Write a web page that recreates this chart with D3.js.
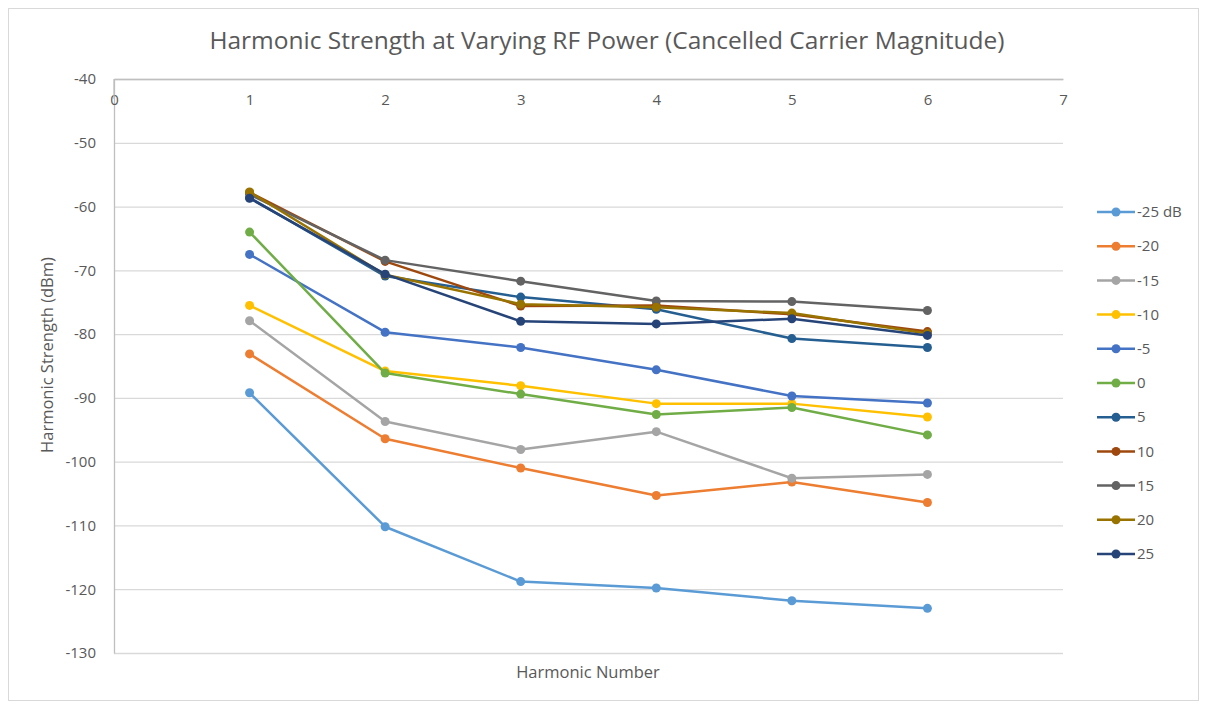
<!DOCTYPE html>
<html lang="en">
<head>
    <meta charset="UTF-8">
    <title>Harmonic Strength at Varying RF Power</title>
    <script src="https://d3js.org/d3.v7.js"></script>
    <style>
        body { margin: 0; background: #fff; }
        text { font-family: "Open Sans", "Noto Sans", sans-serif; fill: #595959; }
        .grid line { stroke: #d9d9d9; stroke-width: 1.3px; }
        .grid path { display: none; }
    </style>
</head>
<body>
<svg width="1206" height="706"></svg>
<script>
    // harmonic numbers on the x axis
    let harmonics = [1, 2, 3, 4, 5, 6];

    // RF power levels (legend labels)
    let seriesNames = ["-25 dB", "-20", "-15", "-10", "-5", "0", "5", "10", "15", "20", "25"];
    let seriesColors = ["#5b9bd5", "#ed7d31", "#a5a5a5", "#ffc000", "#4472c4", "#70ad47",
                        "#255e91", "#9e480e", "#636363", "#997300", "#264478"];

    // harmonic strength (dBm) per series
    let pM25 = [-89.2, -110.2, -118.8, -119.8, -121.8, -123.0];
    let pM20 = [-83.1, -96.4, -101.0, -105.3, -103.2, -106.4];
    let pM15 = [-77.9, -93.7, -98.1, -95.3, -102.6, -102.0];
    let pM10 = [-75.5, -85.8, -88.1, -90.9, -90.9, -93.0];
    let pM5  = [-67.5, -79.7, -82.1, -85.6, -89.7, -90.8];
    let p0   = [-64.0, -86.1, -89.4, -92.6, -91.5, -95.8];
    let p5   = [-58.6, -70.9, -74.2, -76.1, -80.7, -82.1];
    let p10  = [-57.8, -68.6, -75.6, -75.5, -76.9, -79.6];
    let p15  = [-58.1, -68.4, -71.7, -74.8, -74.9, -76.3];
    let p20  = [-57.7, -70.7, -75.3, -75.8, -76.7, -79.9];
    let p25  = [-58.7, -70.6, -78.0, -78.4, -77.6, -80.2];

    let xTicks = [0, 1, 2, 3, 4, 5, 6, 7];
    let yTicks = [-40, -50, -60, -70, -80, -90, -100, -110, -120, -130];

    let allSeries = [pM25, pM20, pM15, pM10, pM5, p0, p5, p10, p15, p20, p25];

    let svg = d3.select("svg");

    // chart border
    svg.append("rect")
        .attr("x", 8.5).attr("y", 8.5)
        .attr("width", 1190).attr("height", 692)
        .attr("fill", "none")
        .attr("stroke", "#d9d9d9");

    let x = d3.scaleLinear().domain([0, 7]).range([114, 1063]);
    let y = d3.scaleLinear().domain([-130, -40]).range([653, 79]);

    // horizontal gridlines
    svg.append("g")
        .attr("class", "grid")
        .attr("transform", "translate(114,0)")
        .call(d3.axisRight(y).tickValues(yTicks).tickSize(949).tickFormat(""));

    // y axis line + labels (plain hyphen, not unicode minus)
    let yAxis = svg.append("g")
        .attr("transform", "translate(114,0)")
        .call(d3.axisLeft(y).tickValues(yTicks).tickSize(0).tickPadding(18).tickFormat(d => String(d)));
    yAxis.select(".domain").attr("stroke", "#bfbfbf").attr("stroke-width", 1.3);
    yAxis.selectAll("text").style("font-size", "15px").style("fill", "#595959");

    // x axis sits on the top (-40) line, labels below it
    let xAxis = svg.append("g")
        .attr("transform", "translate(0," + y(-40) + ")")
        .call(d3.axisBottom(x).tickValues(xTicks).tickSize(0).tickPadding(15).tickFormat(d => String(d)));
    xAxis.select(".domain").attr("stroke", "#bfbfbf").attr("stroke-width", 1.3);
    xAxis.selectAll("text").style("font-size", "15px").style("fill", "#595959");

    // small downward stub below axis at x = 0
    svg.append("line")
        .attr("x1", x(0)).attr("x2", x(0))
        .attr("y1", y(-40)).attr("y2", y(-40) + 20)
        .attr("stroke", "#bfbfbf").attr("stroke-width", 1.3);

    // titles
    svg.append("text")
        .attr("x", 607).attr("y", 49)
        .attr("text-anchor", "middle")
        .style("font-size", "24.5px")
        .text("Harmonic Strength at Varying RF Power (Cancelled Carrier Magnitude)");

    svg.append("text")
        .attr("x", 588).attr("y", 678)
        .attr("text-anchor", "middle")
        .style("font-size", "16.5px")
        .text("Harmonic Number");

    svg.append("text")
        .attr("transform", "translate(53,355) rotate(-90)")
        .attr("text-anchor", "middle")
        .style("font-size", "16.5px")
        .text("Harmonic Strength (dBm)");

    // series lines and markers
    let line = d3.line()
        .x((d, i) => x(harmonics[i]))
        .y(d => y(d));

    let groups = svg.selectAll(".series")
        .data(allSeries)
        .join("g")
        .classed("series", true);

    groups.append("path")
        .attr("d", d => line(d))
        .attr("fill", "none")
        .attr("stroke", (d, i) => seriesColors[i])
        .attr("stroke-width", 2.5)
        .attr("stroke-linejoin", "round");

    groups.each(function (d, i) {
        d3.select(this).selectAll("circle")
            .data(d)
            .join("circle")
            .attr("cx", (v, j) => x(harmonics[j]))
            .attr("cy", v => y(v))
            .attr("r", 4.5)
            .attr("fill", seriesColors[i]);
    });

    // legend
    let legend = svg.selectAll(".legendItem")
        .data(seriesNames)
        .join("g")
        .classed("legendItem", true)
        .attr("transform", (d, i) => "translate(1097," + (212 + i * 34.2) + ")");

    legend.append("line")
        .attr("x1", 0).attr("x2", 38)
        .attr("stroke", (d, i) => seriesColors[i])
        .attr("stroke-width", 2.5);
    legend.append("circle")
        .attr("cx", 19).attr("r", 4.5)
        .attr("fill", (d, i) => seriesColors[i]);
    legend.append("text")
        .attr("x", 40).attr("dy", "0.35em")
        .style("font-size", "15px")
        .text(d => d);
</script>
</body>
</html>
